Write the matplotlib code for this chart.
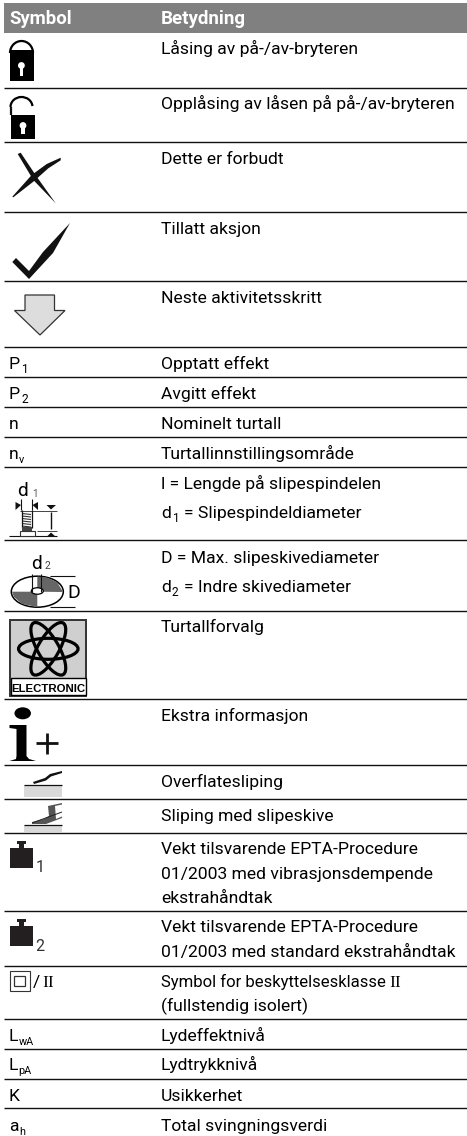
import matplotlib
matplotlib.use("Agg")
import matplotlib.pyplot as plt
import numpy as np
from matplotlib.patches import Polygon, Rectangle, Ellipse, Arc, Circle

# ---- table content ----
header_symbol = "Symbol"
header_meaning = "Betydning"
meanings = [
    "Låsing av på-/av-bryteren",
    "Opplåsing av låsen på på-/av-bryteren",
    "Dette er forbudt",
    "Tillatt aksjon",
    "Neste aktivitetsskritt",
    "Opptatt effekt",
    "Avgitt effekt",
    "Nominelt turtall",
    "Turtallinnstillingsområde",
    "l = Lengde på slipespindelen",
    "D = Max. slipeskivediameter",
    "Turtallforvalg",
    "Ekstra informasjon",
    "Overflatesliping",
    "Sliping med slipeskive",
    "Vekt tilsvarende EPTA-Procedure",
    "01/2003 med vibrasjonsdempende",
    "ekstrahåndtak",
    "Vekt tilsvarende EPTA-Procedure",
    "01/2003 med standard ekstrahåndtak",
    "(fullstendig isolert)",
    "Lydeffektnivå",
    "Lydtrykknivå",
    "Usikkerhet",
    "Total svingningsverdi",
]
meaning_baselines = [54, 109, 164, 234, 303, 369, 399, 429, 459, 489, 563, 632, 721,
                     787, 821, 854, 879, 903, 932, 957, 1011, 1041, 1070, 1101, 1131]
rule_rows = [87.5, 142, 212, 281, 347, 377, 407, 437, 467, 540, 611, 699, 765, 799, 833,
             911, 966, 1019, 1049, 1079, 1108]
# symbol text: (main, subscript, baseline)
text_symbols = [("P", "1", 369), ("P", "2", 399), ("n", "", 429), ("n", "v", 459),
                ("L", "wA", 1041), ("L", "pA", 1070), ("K", "", 1101), ("a", "h", 1131)]

FS = 12.6
SUB = 8.6
BLACK = "#000000"
XTEXT = 161
XSYM = 9

plt.rcParams["font.family"] = ["Roboto", "DejaVu Sans"]
fig = plt.figure(figsize=(4.67, 11.36), dpi=100)
ax = fig.add_axes([0, 0, 1, 1])
ax.set_xlim(0, 467)
ax.set_ylim(1136, 0)
ax.axis("off")

def T(x, y, s, fs=FS, **kw):
    kw.setdefault("color", BLACK)
    return ax.text(x, y, s, fontsize=fs, va="baseline", ha=kw.pop("ha", "left"), **kw)

def poly(pts, fc="#111111", ec="none", lw=0, z=3):
    ax.add_patch(Polygon(pts, closed=True, fc=fc, ec=ec, lw=lw, zorder=z))

def line(xs, ys, lw=1.0, c="#111111", z=3, **kw):
    ax.plot(xs, ys, color=c, lw=lw, zorder=z, solid_capstyle="butt", **kw)

# header
ax.add_patch(Rectangle((4, 3), 463, 30, fc="#808080", ec="none"))
T(XSYM, 24.5, header_symbol, fs=13.3, color="white", fontweight="bold")
T(XTEXT, 24.5, header_meaning, fs=13.5, color="white", fontweight="bold")

# rules
for y in rule_rows:
    line([4, 467], [y, y], lw=1.0, c="#111111")

# meanings
for s, b in zip(meanings, meaning_baselines):
    T(XTEXT, b, s)
T(161, 518, "d")
T(172, 522, "1", fs=SUB)
T(184, 518, "= Slipespindeldiameter")
T(161, 592, "d")
T(172, 596, "2", fs=SUB)
T(184, 592, "= Indre skivediameter")
T(161, 987, "Symbol for beskyttelsesklasse", fs=12.0)
T(389, 987, "II", family="Liberation Serif", fs=12.6)

# simple text symbols
sub_x = {"P": 21, "n": 19, "L": 18.5, "a": 19}
for main, sub, b in text_symbols:
    T(XSYM, b, main)
    if sub:
        T(sub_x[main], b + 4, sub, fs=SUB if sub in "12" else 7.8)

# closed lock
ax.add_patch(Rectangle((9.5, 49.5), 24, 31.5, fc=BLACK, ec="none"))
ax.add_patch(Arc((21.5, 53), 23, 24, theta1=180, theta2=360, lw=1.6, color=BLACK))
ax.add_patch(Circle((21.4, 65.5), 3.4, fc="white", ec="none", zorder=4))
ax.add_patch(Rectangle((19.6, 66), 3.6, 10, fc="white", ec="none", zorder=4))
# open lock
ax.add_patch(Rectangle((11, 115), 24, 23.5, fc=BLACK, ec="none"))
ax.add_patch(Arc((21.5, 107), 22, 20, theta1=180, theta2=355, lw=1.6, color=BLACK))
line([10.5, 10.5], [107, 115], lw=1.6)
ax.add_patch(Circle((23, 125.5), 3.4, fc="white", ec="none", zorder=4))
ax.add_patch(Rectangle((21.2, 126), 3.6, 8, fc="white", ec="none", zorder=4))

# cross
poly([(17.7, 154), (20.7, 152.7), (36.7, 176.7), (55.7, 203.3), (33.3, 180)])
poly([(12.3, 196.7), (31.7, 175), (46.7, 164), (60.7, 157.7), (60.7, 160.3), (48.3, 168.3), (33.3, 181.7), (13.3, 197.3)])
# check
poly([(12.3, 262), (16, 258), (29, 271), (43, 252), (70, 223), (53, 253), (29, 279)])
# arrow
poly([(25, 295), (54.5, 295), (54.5, 310.5), (65, 310.5), (40, 335), (14.5, 310.5), (25, 310.5)],
     fc="#dddddd", ec="#333333", lw=0.9)

# spindle icon
T(17, 496.5, "d", fs=13.8)
T(32, 497, "1", fs=7, color="#555555")
line([21, 21], [499, 510], lw=0.8)
line([32, 32], [499, 510], lw=0.8)
poly([(15.5, 502), (21, 505), (15.5, 510)])
poly([(38, 502), (32.5, 505), (38, 510)])
line([20, 57], [510.5, 510.5], lw=0.7, c="#444444")
line([37, 57], [531, 531], lw=0.7, c="#444444")
line([9, 57], [536, 536], lw=0.8)
for yy in [513.5, 516, 518.5, 521, 523.5, 526]:
    line([22, 31], [yy, yy + 1], lw=0.8, c="#333333")
line([21.5, 21.5], [510, 528], lw=0.9)
line([31.5, 31.5], [510, 528], lw=0.9)
ax.add_patch(Rectangle((21.5, 527), 10, 4, fc="#444444", ec="none", zorder=3))
ax.add_patch(Rectangle((19.5, 531), 15, 5, fc="white", ec="#333333", lw=0.8, zorder=3))
poly([(46.5, 505), (56, 505), (51, 509.5)])
poly([(46.5, 537), (56, 537), (51, 532.5)])
line([51, 51], [512, 529], lw=1.0)

# disc icon
T(31, 569, "d", fs=13.8)
T(45, 569, "2", fs=7.5, color="#444444")
ax.add_patch(Ellipse((37.3, 591.7), 52, 31, fc="white", ec=BLACK, lw=1.1, zorder=3))
ax.add_patch(Polygon([(37.3, 591.7), (37.3, 576.5), (47, 577.5), (57, 582), (62.5, 591), (62.5, 592)],
                     closed=True, fc="#666666", ec="none", zorder=3))
ax.add_patch(Polygon([(37.3, 591.7), (12, 591.7), (14, 597), (22, 604), (37.3, 607)],
                     closed=True, fc="#666666", ec="none", zorder=3))
ax.add_patch(Ellipse((37.3, 591), 12, 6.5, fc="white", ec=BLACK, lw=0.9, zorder=4))
line([31.5, 31.5], [574, 592], lw=0.8, z=5)
line([41, 41], [574, 592], lw=0.8, z=5)
line([50, 75], [576, 576], lw=0.8)
line([50, 75], [607, 607], lw=0.8)
T(67.5, 598, "D", fs=14)

# ELECTRONIC icon
ax.add_patch(Rectangle((9.7, 619.5), 76.5, 76, fc="#cfcfcf", ec="#333333", lw=1.4, zorder=2))
ax.add_patch(Rectangle((10.5, 678), 75, 17, fc="white", ec=BLACK, lw=1.0, zorder=3))
for ang in (0, 60, -60):
    ax.add_patch(Ellipse((48.3, 648.8), 59.5, 21, angle=ang, fc="none", ec=BLACK, lw=2.3, zorder=4))
T(48, 691.5, "ELECTRONIC", fs=8.2, fontweight="bold", ha="center", family=["Liberation Sans", "DejaVu Sans"])

# info icon
ax.add_patch(Ellipse((22.7, 713.3), 16.5, 12, fc=BLACK, ec="none"))
poly([(9.5, 725), (26.5, 725), (26.5, 756), (29, 759), (36, 761), (9.5, 761), (16, 759), (16.5, 756), (16.5, 729), (9.5, 728)], fc=BLACK)
line([36, 57.5], [743, 743], lw=2.0)
line([46.7, 46.7], [733, 754], lw=2.0)

# surface grinding
ax.add_patch(Rectangle((24, 785), 38, 11.5, fc="#d9d9d9", ec="none"))
line([24, 62], [784.5, 784.5], lw=0.9)
poly([(33, 782), (45, 778), (50, 774), (62, 771), (62, 773), (51, 776.5), (46, 780.5), (34, 784)])

# disc grinding
ax.add_patch(Rectangle((24, 825), 38, 7, fc="#d9d9d9", ec="none"))
line([24, 62], [824.5, 824.5], lw=0.9)
poly([(48, 806), (62, 803), (62, 804.5), (55, 806), (56, 819), (62, 816.5), (62, 818), (46, 824), (32, 824),
      (32, 822), (44, 819), (49, 816)], fc="#555555")
line([32, 62], [823, 812], lw=0.7, c="#222222")

# weights
for y0, sub in ((848, "1"), (926, "2")):
    ax.add_patch(Rectangle((10, y0), 23, 20, fc="#231f20", ec="none"))
    ax.add_patch(Rectangle((19, y0 - 4), 5, 4.5, fc="#231f20", ec="none"))
    ax.add_patch(Rectangle((17, y0 - 7), 9, 3, fc="#231f20", ec="none"))
    T(35.5, y0 + 24 if sub == "1" else y0 + 25, sub, fs=11.5, color="#333333")

# class II icon
ax.add_patch(Rectangle((9.5, 970.5), 20.5, 20.5, fc="none", ec="#333333", lw=0.8))
ax.add_patch(Rectangle((14, 975.5), 11, 10.5, fc="none", ec="#333333", lw=0.9))
T(33, 987, "/", fs=12.6)
T(42, 987, "II", fs=12.6, family="Liberation Serif")

fig.savefig("out.png", dpi=100)
